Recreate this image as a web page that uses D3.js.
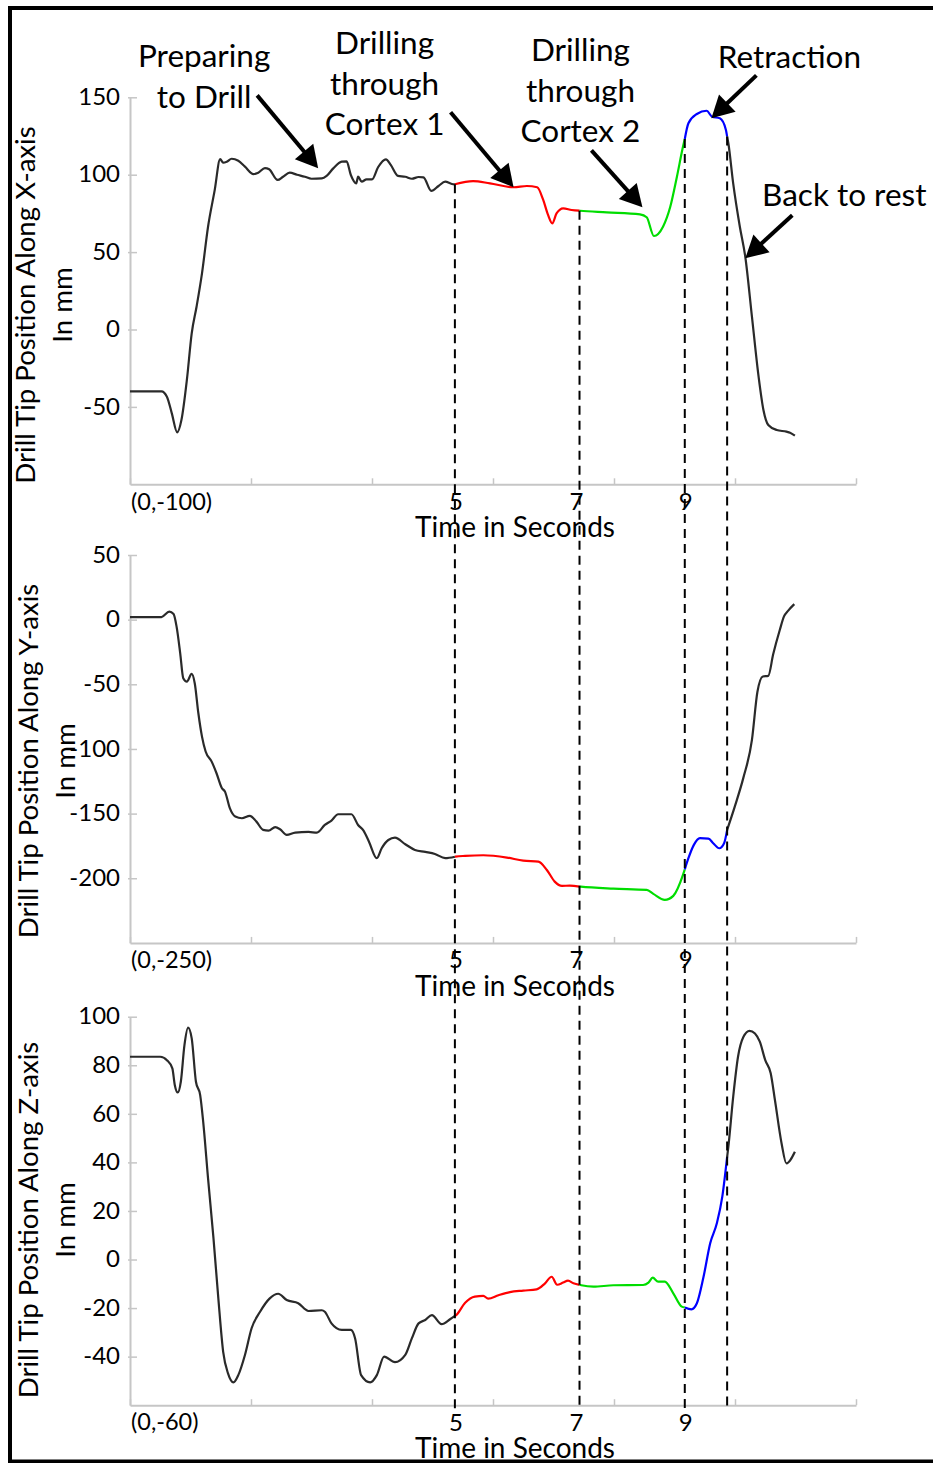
<!DOCTYPE html>
<html>
<head>
<meta charset="utf-8">
<script src="https://cdn.jsdelivr.net/npm/d3@7/dist/d3.min.js"></script>
<style>
  body { margin: 0; background: #fff; }
  svg text { font-family: Lato, "Open Sans", sans-serif; fill: #000; }
</style>
</head>
<body>
<svg id="chart" width="933" height="1463"></svg>
<script>
// ---- Phase boundaries (seconds) and their labels ----
const phaseBounds = [5.37, 7.43, 9.17, 9.87];
const phaseLabels = ["5", "7", "9", ""];
const phaseColors = ["#2a2a2a", "#ff0000", "#00dd00", "#0000ff", "#2a2a2a"];

// ---- Drill tip position along X (mm) ----
const xTime = [0.00, 0.52, 0.61, 0.69, 0.78, 0.85, 0.94, 1.02, 1.10, 1.19, 1.29, 1.40, 1.49, 1.54, 1.60, 1.68,
  1.79, 1.90, 2.04, 2.12, 2.23, 2.30, 2.44, 2.53, 2.64, 2.76, 2.89, 3.00, 3.17, 3.25, 3.36, 3.50, 3.58, 3.65,
  3.74, 3.77, 3.83, 3.91, 4.00, 4.10, 4.23, 4.31, 4.43, 4.55, 4.66, 4.77, 4.85, 4.98, 5.10, 5.21, 5.32, 5.37,
  5.67, 5.95, 6.34, 6.56, 6.73, 6.83, 6.91, 6.98, 7.05, 7.16, 7.30, 7.44, 7.88, 8.43, 8.54, 8.66, 8.81, 8.93,
  9.04, 9.14, 9.23, 9.37, 9.53, 9.62, 9.75, 9.85, 9.89, 9.97, 10.08, 10.17, 10.28, 10.39, 10.47, 10.55, 10.69,
  10.85, 10.91, 10.99];
const xPos = [-40, -40, -43.4, -54, -66.4, -58.5, -32.6, -2.5, 14.7, 36.3, 66.4, 90, 110, 107.8, 108.4, 110.3,
  109, 105.2, 100.4, 101.3, 104.3, 103.5, 96.6, 98.7, 101.3, 100, 98.7, 97.4, 97.6, 99.2, 104.1, 108.4, 108.6, 99.8,
  94.4, 98.7, 95.5, 97, 97, 104.8, 109.9, 106.3, 99.2, 98.7, 97.4, 98.5, 98.3, 89.5, 92.7, 95.5, 94, 93.8,
  95.9, 94.4, 91.9, 92.7, 91.9, 83.7, 74, 68.6, 75, 78.3, 77.2, 76.7, 75.7, 74.4, 72.5, 60.4, 66.4, 79.3,
  98.7, 118, 133.2, 139.2, 141.3, 137.5, 136.4, 128.9, 120.3, 94.4, 66.4, 47, 8.3, -30.5, -52, -61.7, -64.9,
  -66, -66.7, -68.6];

// ---- Drill tip position along Y (mm) ----
const yTime = [0.00, 0.52, 0.65, 0.72, 0.77, 0.83, 0.88, 0.94, 1.02, 1.07, 1.13, 1.19, 1.25, 1.35, 1.43, 1.52,
  1.57, 1.65, 1.74, 1.85, 1.98, 2.09, 2.20, 2.29, 2.40, 2.48, 2.59, 2.73, 2.95, 3.09, 3.22, 3.33, 3.44, 3.66,
  3.77, 3.86, 3.95, 4.08, 4.16, 4.27, 4.38, 4.55, 4.71, 4.88, 5.04, 5.21, 5.38, 5.54, 5.84, 6.23, 6.50, 6.75,
  6.89, 7.02, 7.14, 7.27, 7.45, 7.99, 8.54, 8.65, 8.84, 8.98, 9.14, 9.23, 9.32, 9.42, 9.56, 9.64, 9.74, 9.82,
  9.87, 10.00, 10.14, 10.28, 10.37, 10.46, 10.55, 10.63, 10.74, 10.81, 10.88, 10.98];
const yPos = [2, 2, 6.2, 4.4, -5.4, -26, -45.3, -47.9, -42, -49.2, -72.4, -90.5, -102, -109.8, -118.8, -130.4,
  -133, -145.8, -152.3, -153.6, -151.8, -156.2, -162.6, -163.2, -160.5, -162.1, -166.5, -164.7, -164.2, -164.7,
  -158.8, -155.4, -150.5, -150.5, -158.8, -163.2, -171.7, -184.5, -176.8, -170.4, -168.6, -173.7, -178.1, -179.6,
  -181.2, -184.5, -183.3, -182.7, -182.2, -184, -186.4, -187.1, -193.6, -202.6, -205.9, -205.7, -206.5, -208,
  -209, -212.1, -216.7, -213.6, -197.4, -184.5, -174.2, -169, -169.3, -172.9, -176.8, -172.9, -162.6, -144,
  -122, -93, -56, -44, -43.5, -27, -8, 2.5, 7, 12];

// ---- Drill tip position along Z (mm) ----
const zTime = [0.00, 0.50, 0.61, 0.70, 0.74, 0.79, 0.84, 0.90, 0.96, 1.02, 1.09, 1.16, 1.21, 1.29, 1.38, 1.46,
  1.54, 1.62, 1.71, 1.79, 1.90, 2.01, 2.15, 2.31, 2.45, 2.59, 2.78, 2.95, 3.17, 3.22, 3.33, 3.50, 3.65, 3.72,
  3.82, 3.97, 4.08, 4.20, 4.38, 4.55, 4.66, 4.77, 4.88, 4.99, 5.15, 5.29, 5.39, 5.54, 5.70, 5.84, 5.92, 6.09,
  6.28, 6.50, 6.72, 6.86, 6.97, 7.06, 7.16, 7.24, 7.33, 7.46, 7.66, 7.99, 8.48, 8.57, 8.64, 8.73, 8.84, 8.98,
  9.12, 9.28, 9.37, 9.48, 9.59, 9.70, 9.79, 9.89, 9.97, 10.05, 10.14, 10.24, 10.33, 10.41, 10.50, 10.59, 10.66,
  10.77, 10.85, 10.99];
const zPos = [83.5, 83.5, 82.1, 78.7, 71.9, 68.8, 73.2, 88.3, 95.5, 91.1, 73.2, 67.7, 56.7, 33.4, 8.7, -16,
  -38, -46.9, -50.6, -47.6, -39.3, -28.3, -21.5, -16, -14.1, -16.7, -18, -21.2, -20.9, -21.5, -26.3, -29, -29, -32.4,
  -47.6, -50.6, -47.6, -40, -42.3, -39.3, -32.4, -26.3, -24.9, -22.9, -26.6, -24.6, -22.9, -17.8, -15.3, -15, -16.1, -14.7,
  -13.4, -12.8, -12.3, -9.8, -7.1, -10.4, -9.5, -8.7, -9.8, -10.6, -11.2, -10.6, -10.5, -9.5, -7.5, -9.1, -9.1, -13.9,
  -19.4, -20.5, -18, -7.1, 6.7, 14.9, 25.9, 46.4, 67, 83.5, 91.7, 94.2, 93.1, 89.7, 82.1, 76.7, 65.7,
  47.8, 39.6, 44.4];

// ---- Axes ----
const timeDomain = [0, 12];
const timeTicks = [0, 2, 4, 6, 8, 10, 12];
const xDomain = [-100, 150], xTicks = [-50, 0, 50, 100, 150];
const yDomain = [-250, 50],  yTicks = [-200, -150, -100, -50, 0, 50];
const zDomain = [-60, 100],  zTicks = [-40, -20, 0, 20, 40, 60, 80, 100];
const originLabels = ["(0,-100)", "(0,-250)", "(0,-60)"];
const axisTitles = ["Drill Tip Position Along X-axis", "Drill Tip Position Along Y-axis", "Drill Tip Position Along Z-axis"];
const unitTitle = "In mm";
const timeTitle = "Time in Seconds";

// ---- Annotations on the X panel: text lines and the (time, mm) point each arrow aims at ----
const annotationText = [["Preparing", "to Drill"], ["Drilling", "through", "Cortex 1"],
  ["Drilling", "through", "Cortex 2"], ["Retraction"], ["Back to rest"]];
const annotationTarget = [[3.11, 104.1], [6.34, 91.9], [8.47, 78.9], [9.61, 136.4], [10.17, 46]];

// ------------------------------------------------------------------
const svg = d3.select("#chart");
const W = 933, H = 1463;

const xScale = d3.scaleLinear().domain(timeDomain).range([130, 856]);

const panels = [
  { t: xTime, v: xPos, domain: xDomain, ticks: xTicks, range: [484.3, 97.3], titleX: 25, unitX: 62, titleY: 305 },
  { t: yTime, v: yPos, domain: yDomain, ticks: yTicks, range: [942.9, 555], titleX: 28, unitX: 65, titleY: 761 },
  { t: zTime, v: zPos, domain: zDomain, ticks: zTicks, range: [1405.2, 1016.7], titleX: 28, unitX: 65, titleY: 1220 }
];

// frame
svg.append("path")
  .attr("d", `M${W},8 H10 V1461.5 H${W}`)
  .attr("fill", "none").attr("stroke", "#000").attr("stroke-width", 4);

const axisColor = "#c6c6c6";

function interpAt(ts, vs, t) {
  if (t <= ts[0]) return vs[0];
  if (t >= ts[ts.length - 1]) return vs[vs.length - 1];
  const i = d3.bisectRight(ts, t);
  const f = (t - ts[i - 1]) / (ts[i] - ts[i - 1]);
  return vs[i - 1] + f * (vs[i] - vs[i - 1]);
}

panels.forEach((p, pi) => {
  const yScale = d3.scaleLinear().domain(p.domain).range(p.range);
  p.yScale = yScale;
  const g = svg.append("g");

  // y axis (plain hyphen for negatives)
  const yAxis = d3.axisLeft(yScale).tickValues(p.ticks).tickFormat(d => String(d))
    .tickSizeInner(-7).tickSizeOuter(0).tickPadding(0);
  const ya = g.append("g").attr("transform", "translate(130,0)").call(yAxis);
  ya.select(".domain").attr("stroke", axisColor).attr("stroke-width", 2);
  ya.selectAll(".tick line").attr("stroke", axisColor).attr("stroke-width", 1.5).attr("x1", -2);
  ya.selectAll(".tick text").attr("x", -10).attr("dy", "0.3em")
    .style("font-family", "Lato, sans-serif").style("font-size", "24px").attr("fill", "#000");

  // time axis
  const base = p.range[0];
  const tAxis = d3.axisBottom(xScale).tickValues(timeTicks).tickSizeInner(-6).tickSizeOuter(0).tickFormat("");
  const ta = g.append("g").attr("transform", `translate(0,${base})`).call(tAxis);
  ta.select(".domain").attr("stroke", axisColor).attr("stroke-width", 2);
  ta.selectAll(".tick line").attr("stroke", axisColor).attr("stroke-width", 1.5);

  g.append("text").attr("x", 131).attr("y", base + 17).attr("dy", "0.35em")
    .style("font-size", "23.5px").text(originLabels[pi]);

  phaseBounds.forEach((b, i) => {
    if (!phaseLabels[i]) return;
    g.append("text").attr("x", xScale(b) + (i === 1 ? -3 : 1)).attr("y", base + 17).attr("dy", "0.35em")
      .attr("text-anchor", "middle").style("font-size", "24px").text(phaseLabels[i]);
  });

  g.append("text").attr("x", 515).attr("y", base + 43).attr("dy", "0.35em")
    .attr("text-anchor", "middle").style("font-size", "28px").text(timeTitle);

  // axis titles
  g.append("text").attr("transform", `translate(${p.titleX},${p.titleY}) rotate(-90)`)
    .attr("text-anchor", "middle").attr("dy", "0.36em").style("font-size", "27.6px").text(axisTitles[pi]);
  g.append("text").attr("transform", `translate(${p.unitX},${p.titleY}) rotate(-90)`)
    .attr("text-anchor", "middle").attr("dy", "0.36em").style("font-size", "27.6px").text(unitTitle);

  // curve, coloured by phase
  const line = d3.line().x(d => xScale(d[0])).y(d => yScale(d[1])).curve(d3.curveMonotoneX);
  const edges = [-Infinity, ...phaseBounds, Infinity];
  for (let k = 0; k < edges.length - 1; k++) {
    const lo = edges[k], hi = edges[k + 1];
    const pts = [];
    if (isFinite(lo)) pts.push([lo, interpAt(p.t, p.v, lo)]);
    p.t.forEach((t, i) => { if (t > lo && t < hi) pts.push([t, p.v[i]]); });
    if (isFinite(hi)) pts.push([hi, interpAt(p.t, p.v, hi)]);
    g.append("path").datum(pts).attr("d", line)
      .attr("fill", "none").attr("stroke", phaseColors[k]).attr("stroke-width", 2.2)
      .attr("stroke-linejoin", "round");
  }
});

// phase boundary lines across all three panels
const topPanel = panels[0];
phaseBounds.forEach(b => {
  const x = xScale(b);
  svg.append("line")
    .attr("x1", x).attr("x2", x)
    .attr("y1", topPanel.yScale(interpAt(topPanel.t, topPanel.v, b)))
    .attr("y2", 1409)
    .attr("stroke", "#000").attr("stroke-width", 2).attr("stroke-dasharray", "9,6");
});

// annotations: label offsets and arrow tails relative to the arrow tip (px)
const annLayout = [
  { tail: [-61, -73], label: [-114, -101] },
  { tail: [-63, -75], label: [-129, -133] },
  { tail: [-51, -57], label: [-62, -146] },
  { tail: [45, -43],  label: [78, -50] },
  { tail: [47, -43],  label: [99, -52] }
];
const lineGap = 40.5;
annotationText.forEach((lines, i) => {
  const tip = [xScale(annotationTarget[i][0]), topPanel.yScale(annotationTarget[i][1])];
  const L = annLayout[i];
  const tail = [tip[0] + L.tail[0], tip[1] + L.tail[1]];
  const dx = tip[0] - tail[0], dy = tip[1] - tail[1];
  const len = Math.hypot(dx, dy);
  const u = [dx / len, dy / len], n = [-u[1], u[0]];
  const headLen = 22, headHalf = 12;
  const baseP = [tip[0] - u[0] * headLen, tip[1] - u[1] * headLen];
  svg.append("line")
    .attr("x1", tail[0]).attr("y1", tail[1])
    .attr("x2", baseP[0] + u[0] * 2).attr("y2", baseP[1] + u[1] * 2)
    .attr("stroke", "#000").attr("stroke-width", 4);
  svg.append("path")
    .attr("d", `M${tip[0]},${tip[1]} L${baseP[0] + n[0] * headHalf},${baseP[1] + n[1] * headHalf} L${baseP[0] - n[0] * headHalf},${baseP[1] - n[1] * headHalf} Z`)
    .attr("fill", "#000");
  const txt = svg.append("text").attr("text-anchor", "middle").style("font-size", "31.5px");
  lines.forEach((s, j) => {
    txt.append("tspan").attr("x", tip[0] + L.label[0]).attr("y", tip[1] + L.label[1] + j * lineGap).text(s);
  });
});
</script>
</body>
</html>
